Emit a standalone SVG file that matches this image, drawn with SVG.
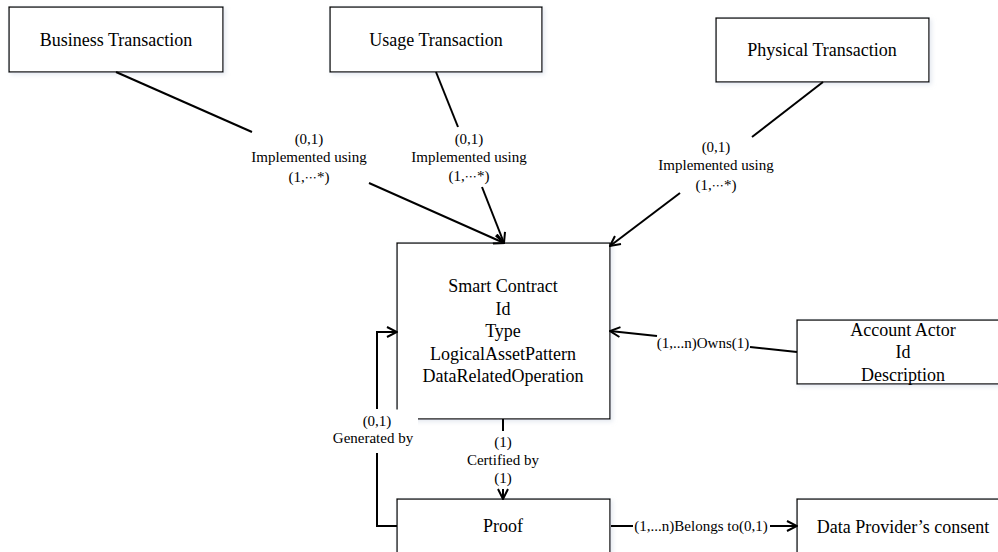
<svg xmlns="http://www.w3.org/2000/svg" width="998" height="552" viewBox="0 0 998 552">
<style>
.box{fill:#fff;stroke:#000;stroke-width:1.3}
.nt{font-family:"Liberation Serif","Times New Roman",serif;font-size:18px;fill:#000;text-anchor:middle;dominant-baseline:central}
.lt{font-family:"Liberation Serif","Times New Roman",serif;font-size:15px;fill:#000;text-anchor:middle;dominant-baseline:central}
.cjk{font-family:"Noto Sans CJK SC",sans-serif;font-size:12px}
.ln{fill:none;stroke:#000;stroke-width:2}
.bg{fill:#fff;stroke:none}
</style>
<defs>
<marker id="arr" viewBox="0 0 12 12" refX="11" refY="6" markerWidth="12" markerHeight="12" markerUnits="userSpaceOnUse" orient="auto">
<path d="M1,1 L11,6 L1,11" fill="none" stroke="#000" stroke-width="2"/>
</marker>
<filter id="sh" x="-10%" y="-10%" width="130%" height="130%">
<feDropShadow dx="2" dy="2" stdDeviation="2" flood-color="#c8d0e0" flood-opacity="0.5"/>
</filter>
</defs>
<rect width="998" height="552" fill="#fff"/>

<g id="business-transaction">
<rect class="box" x="9" y="7" width="214" height="65" filter="url(#sh)"/>
<text class="nt" x="116" y="40">Business Transaction</text>
</g>
<g id="usage-transaction">
<rect class="box" x="330" y="7" width="212" height="65" filter="url(#sh)"/>
<text class="nt" x="436" y="40">Usage Transaction</text>
</g>
<g id="physical-transaction">
<rect class="box" x="716" y="18" width="213" height="64" filter="url(#sh)"/>
<text class="nt" x="822" y="50">Physical Transaction</text>
</g>
<g id="smart-contract">
<rect class="box" x="397" y="243" width="213" height="176" filter="url(#sh)"/>
<text class="nt" x="503" y="286">Smart Contract</text>
<text class="nt" x="503" y="308.5">Id</text>
<text class="nt" x="503" y="331">Type</text>
<text class="nt" x="503" y="353.5">LogicalAssetPattern</text>
<text class="nt" x="503" y="376">DataRelatedOperation</text>
</g>
<g id="account-actor">
<rect class="box" x="797" y="320" width="212" height="64" filter="url(#sh)"/>
<text class="nt" x="903" y="330">Account Actor</text>
<text class="nt" x="903" y="352">Id</text>
<text class="nt" x="903" y="375">Description</text>
</g>
<g id="proof">
<rect class="box" x="397" y="499" width="213" height="70" filter="url(#sh)"/>
<text class="nt" x="503" y="526">Proof</text>
</g>
<g id="data-provider-consent">
<rect class="box" x="797" y="499" width="212" height="70" filter="url(#sh)"/>
<text class="nt" x="903" y="527">Data Provider’s consent</text>
</g>

<g id="connectors">
<!-- Business -> Smart Contract -->
<line class="ln" x1="116" y1="72" x2="252" y2="132"/>
<line class="ln" x1="369" y1="183" x2="504" y2="243" marker-end="url(#arr)"/>
<text class="lt" x="309" y="139">(0,1)</text>
<text class="lt" x="309" y="157">Implemented using</text>
<text class="lt" x="309" y="177">(1,<tspan class="cjk">…</tspan>*)</text>
<!-- Usage -> Smart Contract -->
<line class="ln" x1="436" y1="72" x2="458" y2="127"/>
<line class="ln" x1="482" y1="187" x2="504" y2="243" marker-end="url(#arr)"/>
<text class="lt" x="469" y="139">(0,1)</text>
<text class="lt" x="469" y="157">Implemented using</text>
<text class="lt" x="469" y="176">(1,<tspan class="cjk">…</tspan>*)</text>
<!-- Physical -> Smart Contract -->
<line class="ln" x1="823" y1="82" x2="752" y2="137"/>
<line class="ln" x1="680" y1="193" x2="610" y2="246" marker-end="url(#arr)"/>
<text class="lt" x="716" y="147">(0,1)</text>
<text class="lt" x="716" y="165">Implemented using</text>
<text class="lt" x="716" y="185">(1,<tspan class="cjk">…</tspan>*)</text>
<!-- Account Actor -> Smart Contract -->
<line class="ln" x1="797" y1="352" x2="750" y2="347"/>
<line class="ln" x1="657" y1="336" x2="610" y2="331" marker-end="url(#arr)"/>
<text class="lt" x="703" y="343">(1,...n)Owns(1)</text>
<!-- Smart Contract -> Proof (Certified by) -->
<line class="ln" x1="503" y1="419" x2="503" y2="431"/>
<line class="ln" x1="503" y1="489" x2="503" y2="499" marker-end="url(#arr)"/>
<text class="lt" x="503" y="442">(1)</text>
<text class="lt" x="503" y="460">Certified by</text>
<text class="lt" x="503" y="478">(1)</text>
<!-- Proof -> Smart Contract (Generated by) -->
<polyline class="ln" points="397,526 377,526 377,453"/>
<polyline class="ln" points="377,409 377,332 397,332" marker-end="url(#arr)"/>
<rect class="bg" x="330" y="409.5" width="88" height="42"/>
<text class="lt" x="377" y="421">(0,1)</text>
<text class="lt" x="373" y="438">Generated by</text>
<!-- Proof -> Data Provider's consent -->
<line class="ln" x1="611" y1="526" x2="633" y2="526"/>
<line class="ln" x1="770" y1="526" x2="797" y2="526" marker-end="url(#arr)"/>
<text class="lt" x="701" y="526">(1,...n)Belongs to(0,1)</text>
</g>
</svg>
